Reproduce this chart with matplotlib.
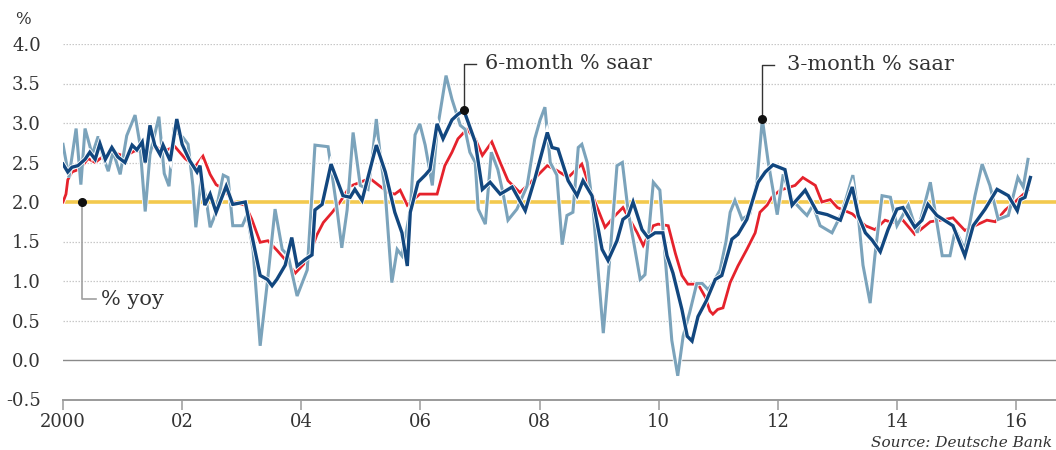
import matplotlib
matplotlib.use("Agg")
import matplotlib.pyplot as plt
import matplotlib.patheffects as pe
import numpy as np

# ---------------- data ----------------
# 6-month % saar (dark blue)
dates_6m = [2000.00, 2000.08, 2000.15, 2000.25, 2000.37, 2000.45, 2000.54, 2000.62, 2000.71, 2000.82,
            2000.92, 2001.04, 2001.16, 2001.24, 2001.33, 2001.38, 2001.46, 2001.54, 2001.63, 2001.68,
            2001.80, 2001.91, 2002.00, 2002.08, 2002.13, 2002.25, 2002.30, 2002.38, 2002.47, 2002.57,
            2002.74, 2002.85, 2003.06, 2003.17, 2003.31, 2003.43, 2003.51, 2003.59, 2003.73, 2003.84,
            2003.93, 2004.06, 2004.18, 2004.23, 2004.35, 2004.50, 2004.70, 2004.82, 2004.90, 2005.02,
            2005.26, 2005.41, 2005.57, 2005.69, 2005.78, 2005.83, 2005.96, 2006.08, 2006.16, 2006.28,
            2006.38, 2006.53, 2006.63, 2006.73, 2006.92, 2007.04, 2007.17, 2007.34, 2007.54, 2007.76,
            2007.92, 2008.13, 2008.21, 2008.31, 2008.48, 2008.63, 2008.73, 2008.88, 2009.05, 2009.15,
            2009.30, 2009.40, 2009.49, 2009.57, 2009.72, 2009.82, 2009.94, 2010.07, 2010.14, 2010.24,
            2010.39, 2010.48, 2010.56, 2010.66, 2010.80, 2010.95, 2011.06, 2011.23, 2011.33, 2011.48,
            2011.67, 2011.79, 2011.92, 2012.12, 2012.24, 2012.46, 2012.66, 2012.83, 2013.05, 2013.25,
            2013.35, 2013.47, 2013.58, 2013.72, 2013.85, 2014.00, 2014.10, 2014.30, 2014.42, 2014.52,
            2014.67, 2014.94, 2015.14, 2015.28, 2015.48, 2015.68, 2015.87, 2016.02, 2016.07, 2016.15,
            2016.24]
vals_6m = [2.48, 2.38, 2.44, 2.46, 2.54, 2.63, 2.54, 2.74, 2.54, 2.69,
           2.57, 2.50, 2.72, 2.66, 2.76, 2.50, 2.97, 2.72, 2.60, 2.72,
           2.52, 3.05, 2.73, 2.60, 2.52, 2.38, 2.46, 1.96, 2.10, 1.87,
           2.20, 1.97, 2.00, 1.58, 1.07, 1.02, 0.94, 1.02, 1.20, 1.55,
           1.19, 1.27, 1.33, 1.90, 1.97, 2.48, 2.08, 2.06, 2.16, 2.02,
           2.72, 2.38, 1.87, 1.61, 1.19, 1.87, 2.25, 2.34, 2.41, 2.99,
           2.80, 3.04, 3.11, 3.16, 2.76, 2.16, 2.25, 2.10, 2.19, 1.89,
           2.29, 2.88, 2.69, 2.67, 2.27, 2.08, 2.27, 2.08, 1.40, 1.26,
           1.51, 1.78, 1.83, 2.00, 1.65, 1.55, 1.61, 1.61, 1.32, 1.10,
           0.64, 0.30, 0.24, 0.55, 0.75, 1.02, 1.07, 1.53, 1.59, 1.78,
           2.25, 2.38, 2.47, 2.41, 1.96, 2.15, 1.87, 1.84, 1.77, 2.19,
           1.83, 1.61, 1.52, 1.37, 1.65, 1.91, 1.93, 1.68, 1.77, 1.97,
           1.83, 1.70, 1.32, 1.70, 1.91, 2.16, 2.08, 1.89, 2.03, 2.06,
           2.31]

# 3-month % saar (light blue)
dates_3m = [2000.00, 2000.10, 2000.22, 2000.30, 2000.37, 2000.49, 2000.59, 2000.67, 2000.76, 2000.84,
            2000.96, 2001.07, 2001.21, 2001.29, 2001.38, 2001.46, 2001.61, 2001.70, 2001.78, 2001.86,
            2002.01, 2002.10, 2002.18, 2002.23, 2002.32, 2002.40, 2002.47, 2002.55, 2002.69, 2002.77,
            2002.85, 2003.01, 2003.09, 2003.19, 2003.31, 2003.43, 2003.56, 2003.68, 2003.78, 2003.93,
            2004.10, 2004.23, 2004.45, 2004.60, 2004.68, 2004.77, 2004.87, 2004.99, 2005.12, 2005.19,
            2005.26, 2005.32, 2005.41, 2005.52, 2005.61, 2005.69, 2005.83, 2005.91, 2005.99, 2006.08,
            2006.20, 2006.28, 2006.36, 2006.43, 2006.53, 2006.67, 2006.75, 2006.83, 2006.92, 2006.97,
            2007.09, 2007.19, 2007.30, 2007.39, 2007.47, 2007.62, 2007.79, 2007.92, 2008.01, 2008.09,
            2008.18, 2008.29, 2008.38, 2008.46, 2008.56, 2008.65, 2008.71, 2008.80, 2008.90, 2009.07,
            2009.18, 2009.30, 2009.39, 2009.49, 2009.59, 2009.69, 2009.77, 2009.91, 2010.02, 2010.12,
            2010.22, 2010.32, 2010.41, 2010.52, 2010.64, 2010.73, 2010.83, 2010.93, 2011.03, 2011.13,
            2011.20, 2011.28, 2011.40, 2011.53, 2011.65, 2011.74, 2011.84, 2011.99, 2012.09, 2012.24,
            2012.41, 2012.49, 2012.59, 2012.71, 2012.91, 2013.08, 2013.26, 2013.35, 2013.43, 2013.55,
            2013.63, 2013.75, 2013.89, 2014.00, 2014.19, 2014.34, 2014.56, 2014.76, 2014.89, 2014.98,
            2015.14, 2015.31, 2015.43, 2015.56, 2015.70, 2015.87, 2016.03, 2016.12, 2016.20]
vals_3m = [2.73, 2.31, 2.93, 2.22, 2.93, 2.60, 2.83, 2.58, 2.39, 2.64,
           2.35, 2.84, 3.10, 2.74, 1.88, 2.60, 3.08, 2.36, 2.20, 2.91,
           2.82, 2.73, 2.21, 1.68, 2.30, 2.05, 1.68, 1.83, 2.34, 2.31,
           1.70, 1.70, 1.84, 1.40, 0.18, 0.98, 1.91, 1.40, 1.32, 0.81,
           1.14, 2.72, 2.70, 1.91, 1.42, 1.90, 2.88, 2.21, 2.16, 2.55,
           3.05, 2.63, 2.12, 0.98, 1.40, 1.32, 1.90, 2.85, 2.99, 2.72,
           2.21, 2.90, 3.27, 3.60, 3.30, 2.97, 2.92, 2.63, 2.50, 1.91,
           1.72, 2.63, 2.41, 2.10, 1.77, 1.91, 2.20, 2.80, 3.04, 3.20,
           2.50, 2.34, 1.46, 1.83, 1.87, 2.69, 2.73, 2.50, 1.90, 0.34,
           1.30, 2.46, 2.50, 1.87, 1.45, 1.02, 1.08, 2.25, 2.15, 1.20,
           0.25, -0.20, 0.30, 0.60, 0.97, 0.97, 0.89, 1.00, 1.14, 1.50,
           1.87, 2.02, 1.78, 1.85, 2.25, 3.05, 2.50, 1.84, 2.35, 2.03,
           1.89, 1.83, 1.96, 1.70, 1.61, 1.87, 2.34, 1.83, 1.20, 0.72,
           1.32, 2.08, 2.06, 1.70, 1.96, 1.61, 2.25, 1.32, 1.32, 1.65,
           1.40, 2.08, 2.48, 2.21, 1.78, 1.83, 2.31, 2.19, 2.54]

# % yoy (red)
dates_yoy = [2000.00, 2000.05, 2000.08, 2000.15, 2000.29, 2000.42, 2000.54, 2000.71, 2000.87, 2001.04,
             2001.21, 2001.38, 2001.54, 2001.71, 2001.88, 2002.05, 2002.22, 2002.35, 2002.47, 2002.57,
             2002.72, 2002.85, 2003.06, 2003.17, 2003.31, 2003.44, 2003.59, 2003.73, 2003.90, 2004.11,
             2004.26, 2004.37, 2004.52, 2004.65, 2004.82, 2004.99, 2005.15, 2005.32, 2005.46, 2005.57,
             2005.66, 2005.78, 2005.99, 2006.28, 2006.41, 2006.53, 2006.63, 2006.78, 2006.92, 2007.04,
             2007.20, 2007.34, 2007.47, 2007.67, 2007.92, 2008.13, 2008.29, 2008.48, 2008.71, 2008.90,
             2009.10, 2009.27, 2009.40, 2009.64, 2009.74, 2009.91, 2009.99, 2010.16, 2010.28, 2010.39,
             2010.49, 2010.66, 2010.78, 2010.86, 2010.91, 2010.99, 2011.08, 2011.20, 2011.33, 2011.48,
             2011.62, 2011.70, 2011.82, 2011.90, 2012.04, 2012.29, 2012.42, 2012.63, 2012.74, 2012.88,
             2013.00, 2013.25, 2013.47, 2013.63, 2013.80, 2013.92, 2014.10, 2014.30, 2014.56, 2014.81,
             2014.94, 2015.14, 2015.31, 2015.51, 2015.65, 2015.82, 2015.98, 2016.20]
vals_yoy = [2.00, 2.10, 2.28, 2.38, 2.42, 2.55, 2.50, 2.60, 2.62, 2.58,
            2.65, 2.62, 2.70, 2.65, 2.70, 2.55, 2.45, 2.58, 2.35, 2.22,
            2.15, 2.00, 1.96, 1.78, 1.49, 1.51, 1.39, 1.27, 1.10, 1.27,
            1.58, 1.74, 1.87, 2.00, 2.20, 2.25, 2.30, 2.20, 2.12, 2.10,
            2.15, 1.96, 2.10, 2.10, 2.46, 2.63, 2.80, 2.92, 2.80, 2.59,
            2.76, 2.50, 2.27, 2.12, 2.30, 2.46, 2.40, 2.31, 2.48, 2.06,
            1.68, 1.83, 1.93, 1.61, 1.45, 1.70, 1.72, 1.70, 1.35, 1.07,
            0.96, 0.96, 0.80, 0.62, 0.58, 0.64, 0.66, 0.98, 1.19, 1.40,
            1.61, 1.87, 1.96, 2.06, 2.15, 2.21, 2.31, 2.21, 2.00, 2.03,
            1.93, 1.85, 1.70, 1.65, 1.77, 1.74, 1.77, 1.59, 1.75, 1.78,
            1.80, 1.64, 1.70, 1.77, 1.75, 1.90, 2.00, 2.15]

target = 2.0
y_ticks = [-0.5, 0.0, 0.5, 1.0, 1.5, 2.0, 2.5, 3.0, 3.5, 4.0]
y_labels = ["-0.5", "0.0", "0.5", "1.0", "1.5", "2.0", "2.5", "3.0", "3.5", "4.0"]
x_ticks = [2000, 2002, 2004, 2006, 2008, 2010, 2012, 2014, 2016]
x_labels = ["2000", "02", "04", "06", "08", "10", "12", "14", "16"]

# ---------------- style ----------------
FONT = "DejaVu Serif"
TXT = "#333333"
C_DARK = "#12477f"
C_LIGHT = "#7ba3bb"
C_RED = "#e5222c"
C_YELLOW = "#f3c94e"

fig = plt.figure(figsize=(10.56, 4.5), dpi=100)
ax = fig.add_axes([63 / 1056, 1 - 399.5 / 450, 1 - 63 / 1056, (399.5 - 44) / 450])
ax.set_xlim(2000, 2016.67)
ax.set_ylim(-0.5, 4.0)

# grid
for v in y_ticks:
    if v in (-0.5, 0.0, 2.0):
        continue
    ax.axhline(v, color="#c8c8c8", lw=0.9, ls=(0, (1.2, 1.2)), zorder=0)
ax.axhline(0.0, color="#8a8a8a", lw=1.0, zorder=0)
ax.axhline(target, color=C_YELLOW, lw=2.6, zorder=0.5)

halo = lambda w: [pe.Stroke(linewidth=w + 1.2, foreground="white"), pe.Normal()]
ax.plot(dates_yoy, vals_yoy, color=C_RED, lw=2.0, zorder=1, solid_joinstyle="miter",
        path_effects=halo(2.0))
ax.plot(dates_3m, vals_3m, color=C_LIGHT, lw=2.2, zorder=2, solid_joinstyle="miter",
        path_effects=halo(2.2))
ax.plot(dates_6m, vals_6m, color=C_DARK, lw=2.4, zorder=3, solid_joinstyle="miter",
        path_effects=halo(2.4))

# spines / ticks
for s in ("top", "right", "left"):
    ax.spines[s].set_visible(False)
ax.spines["bottom"].set_color("#9a9a9a")
ax.spines["bottom"].set_linewidth(1.4)
ax.set_xticks(x_ticks)
ax.set_xticklabels(x_labels, fontfamily=FONT, fontsize=13, color=TXT)
ax.set_yticks(y_ticks)
ax.set_yticklabels(y_labels, fontfamily=FONT, fontsize=13, color=TXT)
ax.tick_params(axis="x", direction="out", length=7, width=1.1, color="#9a9a9a", pad=3)
ax.tick_params(axis="y", length=0, pad=16)

# annotations
i6 = int(np.argmax(vals_6m[60:70])) + 60
x6, y6 = dates_6m[i6], vals_6m[i6]
ax.plot([x6, x6, x6 + 0.2], [y6, 3.75, 3.75], color="#333333", lw=1.0, zorder=4)
ax.plot([x6], [y6], "o", color="#111111", ms=5.5, zorder=5)
ax.text(2007.09, 3.75, "6-month % saar", fontfamily=FONT, fontsize=15, color=TXT,
        va="center", ha="left")

i3 = int(np.argmax(vals_3m[110:120])) + 110
x3, y3 = dates_3m[i3], vals_3m[i3]
ax.plot([x3, x3, x3 + 0.2], [y3, 3.74, 3.74], color="#333333", lw=1.0, zorder=4)
ax.plot([x3], [y3], "o", color="#111111", ms=5.5, zorder=5)
ax.text(2012.16, 3.74, "3-month % saar", fontfamily=FONT, fontsize=15, color=TXT,
        va="center", ha="left")

ax.plot([2000.32, 2000.32, 2000.55], [target, 0.77, 0.77], color="#a0a0a0", lw=1.2, zorder=4)
ax.plot([2000.32], [target], "o", color="#111111", ms=5.5, zorder=5)
ax.text(2000.64, 0.77, "% yoy", fontfamily=FONT, fontsize=15, color=TXT, va="center", ha="left")

fig.text(23 / 1056, 1 - 19 / 450, "%", fontfamily=FONT, fontsize=12, color=TXT,
         ha="center", va="center")
fig.text(1052 / 1056, 1 - 447 / 450, "Source: Deutsche Bank", fontfamily=FONT, fontsize=11,
         style="italic", color=TXT, ha="right", va="baseline")

fig.savefig("out.png", dpi=100)
